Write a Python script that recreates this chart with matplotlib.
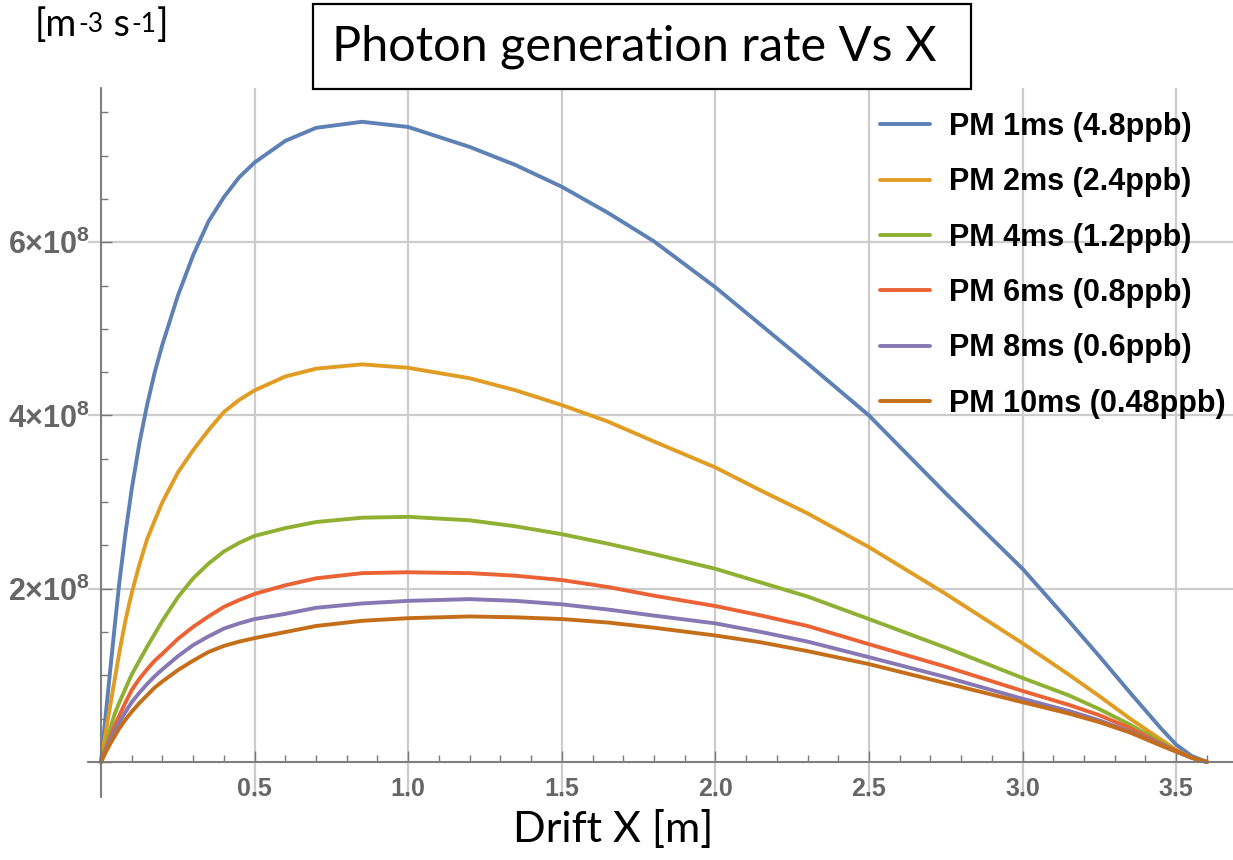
import matplotlib
matplotlib.use('Agg')
import matplotlib.pyplot as plt
import numpy as np
from matplotlib.ticker import MultipleLocator, FuncFormatter
from matplotlib.patches import Rectangle
from matplotlib.font_manager import FontProperties

# ---------------- data (y values in units of 1e8 m^-3 s^-1) ----------------
x_m = [0, 0.015, 0.03, 0.045, 0.06, 0.08, 0.1, 0.125, 0.15, 0.175, 0.2, 0.25, 0.3,
       0.35, 0.4, 0.45, 0.5, 0.6, 0.7, 0.85, 1.0, 1.2, 1.35, 1.5, 1.65, 1.8, 2.0,
       2.15, 2.3, 2.5, 2.75, 3.0, 3.15, 3.25, 3.35, 3.45, 3.5, 3.55, 3.6]

pm1 = [0, 0.53, 1.06, 1.58, 2.08, 2.65, 3.15, 3.68, 4.12, 4.5, 4.82, 5.38, 5.85,
       6.24, 6.52, 6.75, 6.92, 7.17, 7.32, 7.39, 7.33, 7.1, 6.89, 6.64, 6.34, 6.01, 5.48,
       5.04, 4.6, 4.0, 3.1, 2.23, 1.63, 1.22, 0.80, 0.39, 0.2, 0.07, 0]
pm2 = [0, 0.33, 0.65, 0.96, 1.27, 1.64, 1.95, 2.28, 2.57, 2.79, 3.0, 3.34, 3.6,
       3.83, 4.04, 4.18, 4.29, 4.45, 4.54, 4.59, 4.55, 4.43, 4.29, 4.12, 3.93, 3.70, 3.40,
       3.13, 2.87, 2.48, 1.94, 1.37, 1.01, 0.76, 0.50, 0.26, 0.14, 0.05, 0]
pm4 = [0, 0.19, 0.38, 0.56, 0.69, 0.85, 1.01, 1.17, 1.33, 1.48, 1.63, 1.9, 2.12,
       2.29, 2.43, 2.53, 2.61, 2.70, 2.77, 2.82, 2.83, 2.79, 2.72, 2.63, 2.52, 2.40, 2.23,
       2.07, 1.91, 1.65, 1.32, 0.97, 0.77, 0.61, 0.43, 0.23, 0.13, 0.05, 0]
pm6 = [0, 0.15, 0.29, 0.42, 0.54, 0.69, 0.83, 0.96, 1.07, 1.17, 1.25, 1.42, 1.56,
       1.68, 1.79, 1.87, 1.94, 2.04, 2.12, 2.18, 2.19, 2.18, 2.15, 2.10, 2.02, 1.92, 1.80,
       1.69, 1.57, 1.36, 1.10, 0.82, 0.66, 0.54, 0.39, 0.21, 0.13, 0.05, 0]
pm8 = [0, 0.13, 0.25, 0.36, 0.46, 0.58, 0.69, 0.8, 0.9, 0.99, 1.07, 1.22, 1.35,
       1.45, 1.54, 1.60, 1.65, 1.71, 1.78, 1.83, 1.86, 1.88, 1.86, 1.82, 1.76, 1.69, 1.60,
       1.50, 1.39, 1.21, 0.98, 0.73, 0.59, 0.48, 0.35, 0.20, 0.12, 0.05, 0]
pm10 = [0, 0.11, 0.21, 0.30, 0.39, 0.49, 0.58, 0.68, 0.77, 0.86, 0.93, 1.06, 1.17,
        1.27, 1.34, 1.39, 1.43, 1.50, 1.57, 1.63, 1.66, 1.68, 1.67, 1.65, 1.61, 1.55, 1.46,
        1.38, 1.28, 1.13, 0.91, 0.69, 0.56, 0.46, 0.34, 0.19, 0.12, 0.05, 0]

series = [pm1, pm2, pm4, pm6, pm8, pm10]
labels = ["PM 1ms (4.8ppb)", "PM 2ms (2.4ppb)", "PM 4ms (1.2ppb)",
          "PM 6ms (0.8ppb)", "PM 8ms (0.6ppb)", "PM 10ms (0.48ppb)"]
colors = ["#5E81B5", "#E19C24", "#8FB032", "#EB6235", "#8778B3", "#C56E1A"]
SCALE = 1e8

title_text = "Photon generation rate Vs X"
xlabel_text = "Drift X [m]"

# ---------------- style ----------------
plt.rcParams['mathtext.fontset'] = 'custom'
plt.rcParams['mathtext.bf'] = 'Liberation Sans:bold'
plt.rcParams['font.family'] = ['Liberation Sans', 'DejaVu Sans']
plt.rcParams['font.weight'] = 'bold'

W, H = 1233, 860
fig = plt.figure(figsize=(W / 100, H / 100), dpi=100)
fig.patch.set_facecolor('white')

L, R, T, B = 88, 1233, 88, 797
ax = fig.add_axes([L / W, 1 - B / H, (R - L) / W, (B - T) / H])

for ys, lab, c in zip(series, labels, colors):
    ax.plot(x_m, np.array(ys) * SCALE, color=c, lw=2.8, label=lab,
            solid_joinstyle='round', solid_capstyle='round', zorder=3)

ax.set_xlim(-0.0423, 3.685)
ax.set_ylim(-0.404e8, 7.78e8)

for s in ['top', 'right']:
    ax.spines[s].set_visible(False)
ax.spines['left'].set_position(('data', 0))
ax.spines['bottom'].set_position(('data', 0))
for s in ['left', 'bottom']:
    ax.spines[s].set_color('#777777')
    ax.spines[s].set_linewidth(1.3)
    ax.spines[s].set_zorder(4)

ax.xaxis.set_major_locator(MultipleLocator(0.5))
ax.xaxis.set_minor_locator(MultipleLocator(0.1))
ax.yaxis.set_major_locator(MultipleLocator(2e8))
ax.yaxis.set_minor_locator(MultipleLocator(0.5e8))

ax.xaxis.set_major_formatter(FuncFormatter(lambda v, p: '' if abs(v) < 1e-9 else f'{v:.1f}'))
ax.yaxis.set_major_formatter(FuncFormatter(
    lambda v, p: '' if abs(v) < 1 else '%d\u00d710$^{\\mathbf{8}}$' % round(v / 1e8)))

ax.tick_params(which='both', direction='in', color='#777777', width=1.0)
ax.tick_params(which='major', length=8)
ax.tick_params(which='minor', length=4.7)
ax.tick_params(axis='x', which='major', pad=11, labelsize=18, labelcolor='#666666')
ax.tick_params(axis='y', which='major', pad=8, labelsize=22, labelcolor='#666666')

ax.grid(which='major', color='#cccccc', lw=1.6, zorder=0)
ax.set_axisbelow(True)

leg = ax.legend(loc='upper left', bbox_to_anchor=(880 / W, 1 - 112 / H),
                bbox_transform=fig.transFigure, frameon=False,
                prop=FontProperties(family='Liberation Sans', weight='bold', size=22),
                handlelength=1.63, handletextpad=0.62, labelspacing=0.83,
                borderpad=0, borderaxespad=0)
for line in leg.get_lines():
    line.set_linewidth(2.8)

# title box
fig.patches.append(Rectangle((313 / W, 1 - 89 / H), 658 / W, 85 / H,
                             transform=fig.transFigure, fill=True, fc='white',
                             ec='black', lw=1.6, zorder=5))
fig.text(634 / W, 1 - 47 / H, title_text, ha='center', va='center',
         fontsize=35, family='Lato', weight='normal', zorder=6)
fig.text(613 / W, 1 - 830 / H, xlabel_text, ha='center', va='center',
         fontsize=31, family='Lato', weight='normal')

# unit label "[m^-3 s^-1]" built from pieces (real hyphens, superscripts)
renderer = fig.canvas.get_renderer()
unit_pieces = [("[m", 27, 0), ("-3", 19, 4), (" s", 27, 0), ("-1", 19, 4), ("]", 27, 0)]
xpos = 35.0
base_y = 36.0
for txt, size, dy in unit_pieces:
    t = fig.text(xpos / W, 1 - (base_y - dy) / H, txt, ha='left', va='baseline',
                 fontsize=size, family='Lato', weight='normal')
    bb = t.get_window_extent(renderer)
    xpos += bb.width + 1

fig.savefig('out.png', dpi=100)
